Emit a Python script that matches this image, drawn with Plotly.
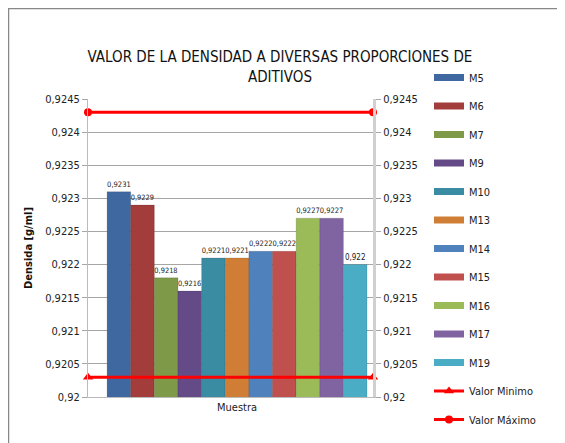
import plotly.graph_objects as go

categories = ["Muestra"]
series_names = ["M5", "M6", "M7", "M9", "M10", "M13", "M14", "M15", "M16", "M17", "M19"]
series_values = [0.9231, 0.9229, 0.9218, 0.9216, 0.9221, 0.9221, 0.9222, 0.9222, 0.9227, 0.9227, 0.9220]
series_colors = ["#3F67A0", "#A23D3B", "#7E9A48", "#644A87", "#3A8CA2", "#D07E36",
                 "#4F81BD", "#C0504D", "#9BBB59", "#8064A2", "#4BACC6"]
valor_minimo = 0.9203
valor_maximo = 0.9243
y_ticks = [0.92, 0.9205, 0.921, 0.9215, 0.922, 0.9225, 0.923, 0.9235, 0.924, 0.9245]

FONT = "DejaVu Sans Condensed, Liberation Sans Narrow, sans-serif"

# plot area in figure coordinates (page has an 8px body offset)
L, R, T, B = 80, 365, 91, 389
W, H = 565, 443
PW, PH = R - L, B - T

fig = go.Figure()
for n, v, c in zip(series_names, series_values, series_colors):
    fig.add_trace(go.Bar(
        x=categories, y=[v], name=n,
        marker=dict(color=c, line=dict(width=0.5, color="rgba(0,0,0,0.25)")),
        text=[v], texttemplate="%{y}", textposition="outside", cliponaxis=False,
        textfont=dict(size=8, color="#222"), legendgroup=n, showlegend=False,
    ))
# legend swatches drawn as thick short lines (Excel-like flat rectangles)
for n, c in zip(series_names, series_colors):
    fig.add_trace(go.Scatter(
        x=[None], y=[None], xaxis="x2", yaxis="y2", name=n, mode="lines",
        line=dict(color=c, width=7), legendgroup=n, showlegend=True, hoverinfo="skip",
    ))

fig.add_trace(go.Scatter(
    x=[0, 1], y=[valor_minimo, valor_minimo], xaxis="x2", yaxis="y2", name="Valor Minimo",
    mode="lines+markers", line=dict(color="#FF0000", width=3),
    marker=dict(symbol="triangle-up", size=9, color="#FF0000"), legendgroup="min", cliponaxis=False,
))
fig.add_trace(go.Scatter(
    x=[0, 1], y=[valor_maximo, valor_maximo], xaxis="x2", yaxis="y2", name="Valor Máximo",
    mode="lines+markers", line=dict(color="#FF0000", width=3),
    marker=dict(symbol="circle", size=8, color="#FF0000"), legendgroup="max", cliponaxis=False,
))

tick_text = [("%g" % t).replace(".", ",") for t in y_ticks]

fig.update_layout(
    width=W, height=H,
    margin=dict(l=L, r=W - R, t=T, b=H - B),
    paper_bgcolor="white", plot_bgcolor="white",
    separators=",.",
    barmode="group", bargap=0.088, bargroupgap=0,
    font=dict(family=FONT, size=11, color="#222"),
    title=dict(text="VALOR DE LA DENSIDAD A DIVERSAS PROPORCIONES DE<br>ADITIVOS",
               x=272 / W, xanchor="center", y=1 - 54 / H, yanchor="middle",
               font=dict(family=FONT, size=15, color="#111")),
    xaxis=dict(type="category", range=[-0.523, 0.477], showgrid=False, showline=True,
               linecolor="#BBBBBB", linewidth=1, ticks="", tickfont=dict(size=11, color="#222"),
               fixedrange=True),
    xaxis2=dict(overlaying="x", range=[0, 1], visible=False),
    yaxis=dict(range=[0.92, 0.9245], tickvals=y_ticks, ticktext=tick_text,
               showgrid=True, gridcolor="#A6A6A6", gridwidth=1,
               showline=True, linecolor="#BBBBBB", linewidth=1, ticks="outside", ticklen=5,
               tickcolor="#A6A6A6", zeroline=False,
               title=dict(text="<b>Densida [g/ml]</b>", font=dict(size=11, color="#111"), standoff=10)),
    yaxis2=dict(overlaying="y", side="right", range=[0.92, 0.9245], tickvals=y_ticks, ticktext=tick_text,
                showgrid=False, showline=True, linecolor="#D0D0D0", linewidth=3, ticks="outside", ticklen=5,
                tickcolor="#A6A6A6", zeroline=False),
    legend=dict(x=(421 - L) / PW, xanchor="left", y=(B - 55) / PH, yanchor="top",
                tracegroupgap=9.5, font=dict(size=11, color="#222"), bgcolor="rgba(0,0,0,0)",
                itemwidth=30, maxheight=440),
    showlegend=True,
)

# outer chart border
fig.add_shape(type="rect", xref="paper", yref="paper",
              x0=(0.5 - L) / PW, x1=(W + 5 - L) / PW, y0=(B - H - 5) / PH, y1=(B - 0.5) / PH,
              line=dict(color="#888888", width=1.5), fillcolor="rgba(0,0,0,0)", layer="below")

fig.write_html("out.html")
